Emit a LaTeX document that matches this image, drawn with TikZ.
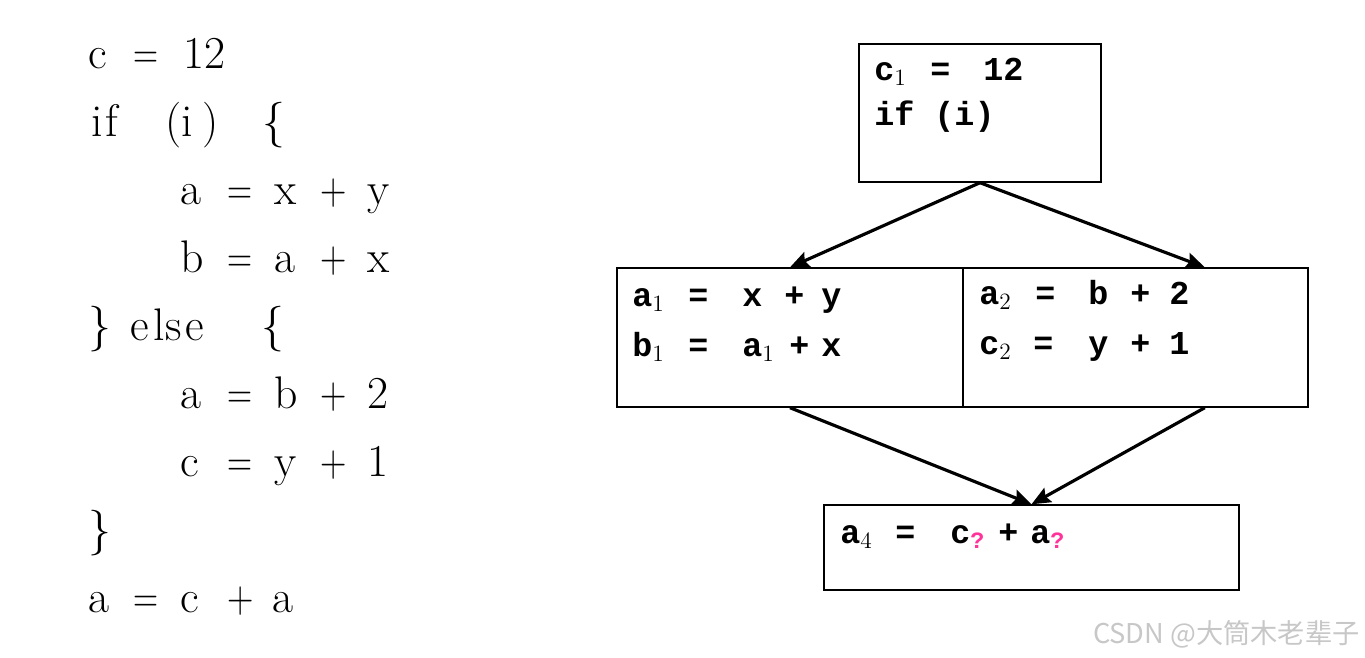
\documentclass[tikz,border=0pt]{standalone}
\usepackage{graphicx}
\usepackage{fontspec}
\newfontfamily\cfgfont{Liberation Mono}
\newfontfamily\cjkfont{Noto Sans CJK SC}
\usetikzlibrary{arrows.meta,calc}
\definecolor{qpink}{RGB}{255,51,153}
\newdimen\pxu \pxu=0.2mm
% one token in a column of given width (px)
\newcommand\tk[2]{\makebox[#1\pxu][l]{#2}}
\newcommand\sub[1]{\textsubscript{\rmfamily\mdseries #1}}
\newcommand\qm{\textsubscript{\color{qpink}?}}
% narrow operators of the source listing
\newcommand\eq{\scalebox{0.76}[1]{=}}
\newcommand\pl{\scalebox{0.8}[1]{+}}

\begin{document}
\begin{tikzpicture}[x=0.2mm, y=-0.2mm,
  src/.style={anchor=base west, inner sep=0pt, font=\fontsize{26}{31}\selectfont},
  stmt/.style={anchor=base west, inner sep=0pt, font=\cfgfont\bfseries\fontsize{19}{23}\selectfont},
  block/.style={draw, line width=0.8pt, inner sep=0pt},
  flow/.style={-{Stealth[length=3.8mm, width=3.2mm, inset=0.6mm]}, line width=1.8pt}]
  \useasboundingbox (0,0) rectangle (1365,657);

  % source program
  \node[src] (src1) at (88,68) {\tk{45}{c}\tk{50}{\eq}12};
  \node[src] (src2) at (91,136) {\tk{14}{i}\tk{60}{f}\tk{16}{(}\tk{21}{i}\tk{60}{)}\{};
  \node[src] (src3) at (180,204) {\tk{47}{a}\tk{47}{\eq}\tk{46}{x}\tk{47}{\pl}y};
  \node[src] (src4) at (180,272) {\tk{47}{b}\tk{47}{\eq}\tk{46}{a}\tk{47}{\pl}x};
  \node[src] (src5) at (88,340) {\tk{42}{\}}\tk{23}{e}\tk{12}{l}\tk{20}{s}\tk{76}{e}\{};
  \node[src] (src6) at (180,408) {\tk{47}{a}\tk{47}{\eq}\tk{46}{b}\tk{47}{\pl}2};
  \node[src] (src7) at (180,476) {\tk{47}{c}\tk{47}{\eq}\tk{46}{y}\tk{47}{\pl}1};
  \node[src] (src8) at (88,544) {\}};
  \node[src] (src9) at (88,612) {\tk{45}{a}\tk{47}{\eq}\tk{47}{c}\tk{45}{\pl}a};

  % basic blocks
  \node[block, minimum width=48.4mm, minimum height=27.6mm] (entry) at (980,113) {};
  \node[block, minimum width=69.2mm, minimum height=27.8mm] (thenblk) at (790,337.5) {};
  \node[block, minimum width=69mm, minimum height=27.8mm] (elseblk) at (1135.5,337.5) {};
  \node[block, minimum width=83mm, minimum height=17mm] (join) at (1031.5,547.5) {};

  \node[stmt] (e1) at (874,80) {\tk{56}{c\sub{1}}\tk{53}{=}12};
  \node[stmt] (e2) at (874,125) {if (i)};
  \node[stmt] (t1) at (632,306) {\tk{56}{a\sub{1}}\tk{54}{=}\tk{42}{x}\tk{37}{+}y};
  \node[stmt] (t2) at (632,356) {\tk{56}{b\sub{1}}\tk{54}{=}\tk{47}{a\sub{1}}\tk{32}{+}x};
  \node[stmt] (f1) at (979,304) {\tk{56}{a\sub{2}}\tk{53}{=}\tk{42}{b}\tk{39}{+}2};
  \node[stmt] (f2) at (979,354) {\tk{54}{c\sub{2}}\tk{55}{=}\tk{42}{y}\tk{39}{+}1};
  \node[stmt] (j1) at (840,543) {\tk{55}{a\sub{4}}\tk{55}{=}\tk{48}{c\qm}\tk{32}{+}a\qm};

  % edges
  \coordinate (elsein) at ($(elseblk.north west)!0.7!(elseblk.north east)$);
  \coordinate (elseout) at ($(elseblk.south west)!0.7!(elseblk.south east)$);
  \draw[flow] (entry.south) -- (thenblk.north);
  \draw[flow] (entry.south) -- (elsein);
  \draw[flow] (thenblk.south) -- (join.north);
  \draw[flow] (elseout) -- (join.north);

  \node[anchor=base east, inner sep=0pt, text=black!22, font=\cjkfont\fontsize{15.5}{18}\selectfont] (mark) at (1360,643) {CSDN @大筒木老辈子};
\end{tikzpicture}
\end{document}
